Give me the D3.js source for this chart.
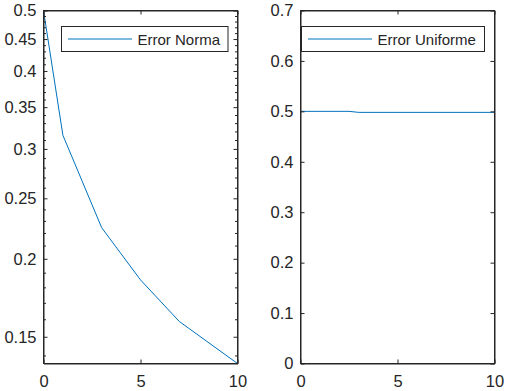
<!DOCTYPE html>
<html>
<head>
<meta charset="utf-8">
<script src="https://cdn.jsdelivr.net/npm/d3@7/dist/d3.min.js"></script>
<style>
  html, body { margin: 0; padding: 0; background: #fff; }
  svg { display: block; }
  text { font-family: "Liberation Sans", Arial, sans-serif; fill: #262626; }
</style>
</head>
<body>
<svg id="chart" width="508" height="391"></svg>
<script>
// ---- data ----
const normX = [0, 1, 3, 5, 7, 10];
const normY = [0.5, 0.3155, 0.2243, 0.185, 0.1587, 0.1359];
const unifX = [0, 2.5, 3, 10];
const unifY = [0.5, 0.5, 0.498, 0.498];
const xTicks = [0, 5, 10];
const leftYTicks = [0.15, 0.2, 0.25, 0.3, 0.35, 0.4, 0.45, 0.5];
const leftYMinor = [0.14, 0.16, 0.17, 0.18, 0.19, 0.21, 0.22, 0.23, 0.24, 0.26, 0.27, 0.28, 0.29,
                    0.31, 0.32, 0.33, 0.34, 0.36, 0.37, 0.38, 0.39, 0.41, 0.42, 0.43, 0.44,
                    0.46, 0.47, 0.48, 0.49];
const rightYTicks = [0, 0.1, 0.2, 0.3, 0.4, 0.5, 0.6, 0.7];
const legendLeft = "Error Norma";
const legendRight = "Error Uniforme";

const svg = d3.select("#chart");
const axisColor = "#262626";
const lineColor = "#0072BD";
const tickFont = 16.5;

function panel(opts) {
  const {x0, x1, y0, y1, yScaleType, yDomain, yTicks, yMinor, xs, ys, label, legend} = opts;
  const x = d3.scaleLinear().domain([0, 10]).range([x0, x1]);
  const y = (yScaleType === "log" ? d3.scaleLog() : d3.scaleLinear()).domain(yDomain).range([y1, y0]);
  const g = svg.append("g");

  // data line
  const line = d3.line().x((d, i) => x(xs[i])).y(d => y(d));
  g.append("path").datum(ys).attr("d", line)
    .attr("fill", "none").attr("stroke", lineColor).attr("stroke-width", 1);

  const fmt = d => String(+d.toFixed(3));
  // bottom axis
  const bx = g.append("g").attr("transform", `translate(0,${y1})`)
    .call(d3.axisBottom(x).tickValues(xTicks).tickFormat(fmt).tickSizeInner(-4).tickSizeOuter(0).tickPadding(12));
  // top axis
  const tx = g.append("g").attr("transform", `translate(0,${y0})`)
    .call(d3.axisTop(x).tickValues(xTicks).tickFormat("").tickSizeInner(-4).tickSizeOuter(0));
  // left axis
  const ly = g.append("g").attr("transform", `translate(${x0},0)`)
    .call(d3.axisLeft(y).tickValues(yTicks).tickFormat(fmt).tickSizeInner(-4).tickSizeOuter(0).tickPadding(7));
  // right axis
  const ry = g.append("g").attr("transform", `translate(${x1},0)`)
    .call(d3.axisRight(y).tickValues(yTicks).tickFormat("").tickSizeInner(-4).tickSizeOuter(0));
  if (yMinor) {
    g.append("g").attr("transform", `translate(${x0},0)`)
      .call(d3.axisLeft(y).tickValues(yMinor).tickFormat("").tickSizeInner(-2.5).tickSizeOuter(0))
      .select(".domain").remove();
    g.append("g").attr("transform", `translate(${x1},0)`)
      .call(d3.axisRight(y).tickValues(yMinor).tickFormat("").tickSizeInner(-2.5).tickSizeOuter(0))
      .select(".domain").remove();
  }
  g.selectAll(".domain").attr("stroke", axisColor);
  g.selectAll(".tick line").attr("stroke", axisColor);
  g.selectAll(".tick text").style("font-size", tickFont + "px")
    .style("font-family", '"Liberation Sans", Arial, sans-serif').attr("fill", axisColor);

  // full box
  g.append("rect").attr("x", x0).attr("y", y0).attr("width", x1 - x0).attr("height", y1 - y0)
    .attr("fill", "none").attr("stroke", axisColor).attr("stroke-width", 1);

  // legend
  const lg = g.append("g");
  lg.append("rect").attr("x", legend.x).attr("y", legend.y).attr("width", legend.w).attr("height", legend.h)
    .attr("fill", "#fff").attr("stroke", axisColor).attr("stroke-width", 1);
  const ly0 = legend.y + legend.h / 2;
  lg.append("line").attr("x1", legend.x + 6.5).attr("x2", legend.x + 70.5)
    .attr("y1", ly0).attr("y2", ly0).attr("stroke", lineColor).attr("stroke-width", 1);
  lg.append("text").attr("x", legend.x + 76).attr("y", ly0 + 5.5)
    .style("font-size", "15px").text(label);
}

panel({x0: 43.5, x1: 237.5, y0: 10.5, y1: 363.5, yScaleType: "log", yDomain: [0.1359, 0.5],
  yTicks: leftYTicks, yMinor: leftYMinor, xs: normX, ys: normY, label: legendLeft,
  legend: {x: 61.5, y: 26.5, w: 166.5, h: 25}});
panel({x0: 300.5, x1: 494.5, y0: 10.5, y1: 363.5, yScaleType: "linear", yDomain: [0, 0.7],
  yTicks: rightYTicks, yMinor: null, xs: unifX, ys: unifY, label: legendRight,
  legend: {x: 301.5, y: 26.5, w: 183, h: 25}});
</script>
</body>
</html>
